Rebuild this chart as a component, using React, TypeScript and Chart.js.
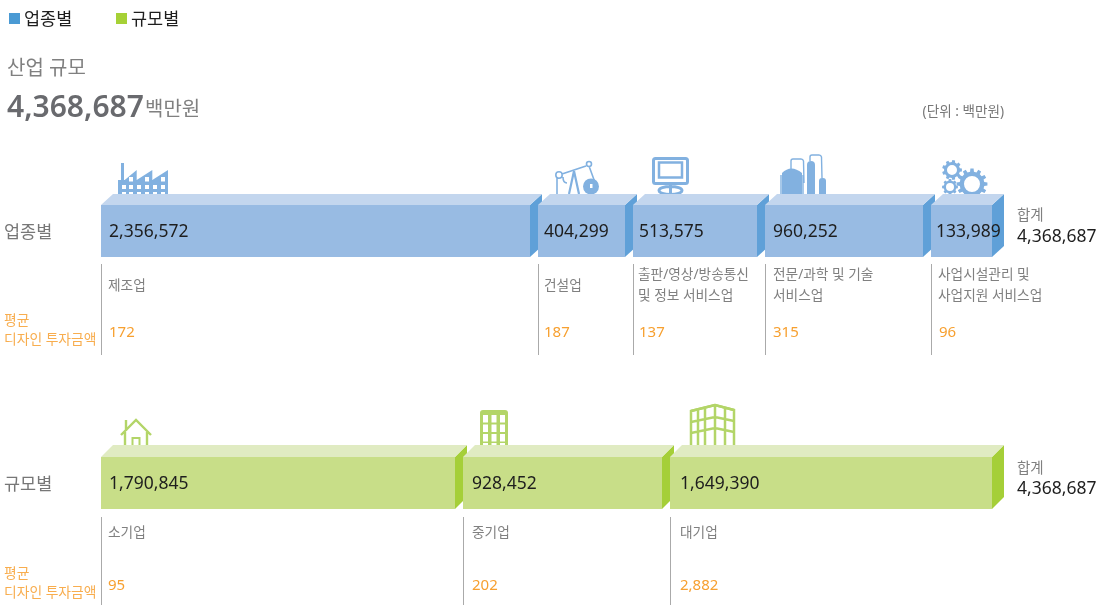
import React, { useEffect, useRef } from "react";
import { Chart, registerables } from "chart.js";

Chart.register(...registerables);

// ---------- data ----------
const rowLabels = ["업종별", "규모별"];
const legendLabels = ["업종별", "규모별"];
const headingLabel = "산업 규모";
const totalText = "4,368,687";
const unitText = "백만원";
const unitNote = "(단위 : 백만원)";
const sumLabel = "합계";
const avgLabelLines = ["평균", "디자인 투자금액"];

const industryNames = [["제조업"], ["건설업"], ["출판/영상/방송통신", "및 정보 서비스업"], ["전문/과학 및 기술", "서비스업"], ["사업시설관리 및", "사업지원 서비스업"]];
const industryAmounts = ["2,356,572", "404,299", "513,575", "960,252", "133,989"];
const industryAverages = ["172", "187", "137", "315", "96"];
// segment lengths as drawn in the picture (the picture's blocks are not proportional to the amounts)
const industryLengths = [437, 95, 132, 166, 61];

const sizeNames = [["소기업"], ["중기업"], ["대기업"]];
const sizeAmounts = ["1,790,845", "928,452", "1,649,390"];
const sizeAverages = ["95", "202", "2,882"];
const sizeLengths = [362, 207, 322];

// ---------- style ----------
const FONT = '"Noto Sans", "Noto Sans CJK KR", sans-serif';
const BLUE = { front: "#98bbe3", top: "#c3d6ee", side: "#5fa0d8", icon: "#82b1e0", legend: "#4a9ad4" };
const GREEN = { front: "#c8de88", top: "#e0ebc2", side: "#a5cf38", icon: "#b3d568", legend: "#a6d136" };
const GAP = 8;
const DEPTH_X = 12;
const DEPTH_Y = [11, 12];
const ORANGE = "#f7a030";
const ORANGE_LIGHT = "#f8ad4e";
const GREY = "#808080";
const DARK = "#1e1e1e";
const amountInset = [[8, 6, 6, 8, 5], [8, 9, 10]];
const nameInset = [[7, 6, 5, 8, 7], [7, 9, 10]];
const avgInset = [[8, 6, 6, 8, 8], [7, 9, 10]];

type Ctx = CanvasRenderingContext2D;

function text(ctx: Ctx, s: string, x: number, y: number, font: string, color: string, align: CanvasTextAlign = "left") {
  ctx.font = font + " " + FONT;
  ctx.fillStyle = color;
  ctx.textAlign = align;
  ctx.textBaseline = "middle";
  ctx.fillText(s, x, y);
}

function poly(ctx: Ctx, pts: number[][], color: string) {
  ctx.beginPath();
  pts.forEach((p, i) => (i ? ctx.lineTo(p[0], p[1]) : ctx.moveTo(p[0], p[1])));
  ctx.closePath();
  ctx.fillStyle = color;
  ctx.fill();
}

function gear(ctx: Ctx, cx: number, cy: number, r: number, hole: number, teeth: number) {
  ctx.beginPath();
  const tw = Math.PI / teeth;
  for (let i = 0; i < teeth; i++) {
    const a = (i * 2 * Math.PI) / teeth;
    const rIn = r * 0.8;
    const pts = [
      [a - tw * 0.6, rIn],
      [a - tw * 0.4, r],
      [a + tw * 0.4, r],
      [a + tw * 0.6, rIn],
    ];
    pts.forEach((p, j) => {
      const x = cx + Math.cos(p[0]) * p[1];
      const y = cy + Math.sin(p[0]) * p[1];
      if (i === 0 && j === 0) ctx.moveTo(x, y);
      else ctx.lineTo(x, y);
    });
  }
  ctx.closePath();
  ctx.moveTo(cx + hole, cy);
  ctx.arc(cx, cy, hole, 0, Math.PI * 2, true);
  ctx.fill("evenodd");
}

// icons: (x) is the left of the bar under it, (b) the back edge of the bar's top face
const icons: Record<string, (ctx: Ctx, x: number, b: number) => void> = {
  factory(ctx, x, b) {
    const l = x + 17;
    ctx.fillStyle = BLUE.icon;
    ctx.fillRect(l + 3, b - 31, 3, 20);
    ctx.fillRect(l, b - 14, 50, 14);
    [[6.7, 18.7], [18.7, 34.3], [34.3, 50]].forEach((t) => {
      poly(ctx, [[l + t[0], b - 14], [l + t[1], b - 24], [l + t[1], b - 13], [l + t[0], b - 13]], BLUE.icon);
    });
    ctx.fillStyle = "#ffffff";
    [4, 11, 19, 27, 35, 43].forEach((o, i) => {
      [b - 9, b - 2].forEach((y) => ctx.fillRect(l + o, y, 4, y === b - 2 ? 2 : 4));
      if (i % 2 === 1) ctx.fillRect(l + o, b - 17, 4, 4.5);
    });
  },
  pump(ctx, x, b) {
    ctx.strokeStyle = BLUE.icon;
    ctx.fillStyle = BLUE.icon;
    ctx.lineWidth = 1.6;
    const l = x + 18;
    ctx.beginPath();
    ctx.arc(l + 3, b - 19, 3.2, 0, Math.PI * 2);
    ctx.moveTo(l + 6, b - 20);
    ctx.lineTo(l + 30, b - 28);
    ctx.moveTo(l + 35.5, b - 30);
    ctx.arc(l + 33, b - 30, 2.5, 0, Math.PI * 2);
    ctx.moveTo(l + 1, b - 16);
    ctx.lineTo(l + 1, b);
    ctx.moveTo(l + 7, b - 17);
    ctx.quadraticCurveTo(l + 7, b - 11, l + 11, b - 11);
    ctx.moveTo(l + 33, b - 28);
    ctx.lineTo(l + 41, b - 6);
    ctx.stroke();
    ctx.lineWidth = 2.2;
    ctx.beginPath();
    ctx.moveTo(l + 18, b - 23);
    ctx.lineTo(l + 13, b);
    ctx.moveTo(l + 18, b - 23);
    ctx.lineTo(l + 23, b);
    ctx.stroke();
    ctx.beginPath();
    ctx.arc(l + 35, b - 7.5, 8, 0, Math.PI * 2);
    ctx.fill();
    ctx.fillStyle = "#ffffff";
    ctx.fillRect(l + 34, b - 10, 2.5, 4);
  },
  monitor(ctx, x, b) {
    const l = x + 19;
    ctx.strokeStyle = BLUE.icon;
    ctx.lineWidth = 3;
    ctx.beginPath();
    ctx.roundRect(l + 1.5, b - 35.5, 34, 25, 2);
    ctx.stroke();
    ctx.lineWidth = 2.5;
    ctx.strokeRect(l + 7, b - 31.5, 23, 15);
    ctx.lineWidth = 3;
    ctx.beginPath();
    ctx.ellipse(l + 18.5, b - 3.5, 11.5, 4, 0, 0, Math.PI * 2);
    ctx.moveTo(l + 18.5, b - 9);
    ctx.lineTo(l + 18.5, b);
    ctx.stroke();
  },
  plant(ctx, x, b) {
    const l = x + 16;
    ctx.fillStyle = BLUE.icon;
    ctx.strokeStyle = BLUE.icon;
    ctx.beginPath();
    ctx.moveTo(l + 1, b);
    ctx.lineTo(l + 1, b - 21);
    ctx.quadraticCurveTo(l + 10, b - 30, l + 21, b - 21);
    ctx.lineTo(l + 21, b);
    ctx.closePath();
    ctx.fill();
    ctx.fillRect(l + 26, b - 29, 8, 29);
    ctx.beginPath();
    ctx.arc(l + 30, b - 29, 4, Math.PI, 0);
    ctx.fill();
    ctx.beginPath();
    ctx.roundRect(l + 38, b - 16, 7, 16, [3, 3, 0, 0]);
    ctx.fill();
    ctx.lineWidth = 1.4;
    ctx.beginPath();
    ctx.moveTo(l + 10, b - 25);
    ctx.lineTo(l + 10, b - 33);
    ctx.quadraticCurveTo(l + 10, b - 35, l + 12, b - 35);
    ctx.lineTo(l + 20, b - 35);
    ctx.quadraticCurveTo(l + 22, b - 35, l + 22.5, b - 33);
    ctx.lineTo(l + 23, b - 11);
    ctx.moveTo(l + 29, b - 33);
    ctx.lineTo(l + 29, b - 37);
    ctx.quadraticCurveTo(l + 29, b - 39, l + 31, b - 39);
    ctx.lineTo(l + 38, b - 39);
    ctx.quadraticCurveTo(l + 40, b - 39, l + 40.5, b - 37);
    ctx.lineTo(l + 41, b - 16);
    ctx.moveTo(l, b);
    ctx.lineTo(l, b - 19);
    ctx.moveTo(l + 22, b);
    ctx.lineTo(l + 22, b - 19);
    ctx.stroke();
  },
  gears(ctx, x, b) {
    ctx.fillStyle = BLUE.icon;
    gear(ctx, x + 21, b - 24, 10, 5, 9);
    gear(ctx, x + 19, b - 7, 8, 4, 8);
    gear(ctx, x + 41, b - 10, 15.5, 8, 12);
  },
  house(ctx, x, b) {
    const l = x + 19;
    ctx.strokeStyle = GREEN.icon;
    ctx.lineWidth = 2.4;
    ctx.beginPath();
    ctx.moveTo(l + 1, b - 10);
    ctx.lineTo(l + 16, b - 25);
    ctx.lineTo(l + 31, b - 10);
    ctx.moveTo(l + 6, b - 14);
    ctx.lineTo(l + 6, b - 25);
    ctx.moveTo(l + 5, b - 13);
    ctx.lineTo(l + 5, b);
    ctx.moveTo(l + 27, b - 13);
    ctx.lineTo(l + 27, b);
    ctx.stroke();
    ctx.lineWidth = 2;
    ctx.strokeRect(l + 12.5, b - 7, 7, 8);
  },
  tower(ctx, x, b) {
    const l = x + 17;
    ctx.fillStyle = GREEN.icon;
    ctx.beginPath();
    ctx.roundRect(l, b - 35, 28, 36, [3, 3, 0, 0]);
    ctx.fill();
    ctx.fillStyle = "#ffffff";
    [3, 11.5, 20].forEach((o) => {
      [-30, -20.5, -11, -2].forEach((y) => ctx.fillRect(l + o, b + y, 5, y === -2 ? 3 : 7.5));
    });
  },
  office(ctx, x, b) {
    const l = x + 20;
    ctx.strokeStyle = GREEN.icon;
    ctx.lineWidth = 2.5;
    ctx.beginPath();
    ctx.moveTo(l + 1, b);
    ctx.lineTo(l + 1, b - 34);
    ctx.lineTo(l + 25, b - 40);
    ctx.lineTo(l + 44, b - 35);
    ctx.lineTo(l + 44, b);
    ctx.stroke();
    ctx.beginPath();
    [8, 15, 25, 35].forEach((o) => {
      const t = o <= 25 ? 34 + ((o - 1) / 24) * 6 : 40 - ((o - 25) / 19) * 5;
      ctx.moveTo(l + o, b - t);
      ctx.lineTo(l + o, b);
    });
    [0, 11, 22].forEach((d) => {
      ctx.moveTo(l + 1, b - 34 + d);
      ctx.lineTo(l + 25, b - 40 + d + (d ? 1 : 0));
      ctx.lineTo(l + 44, b - 35 + d);
    });
    ctx.stroke();
  },
};
const iconNames = [["factory", "pump", "monitor", "plant", "gears"], ["house", "tower", "office"]];

const rows = [
  { names: industryNames, amounts: industryAmounts, avgs: industryAverages, pal: BLUE, n: industryLengths.length },
  { names: sizeNames, amounts: sizeAmounts, avgs: sizeAverages, pal: GREEN, n: sizeLengths.length },
];

const makeDatasets = () => {
  const ds: any[] = [];
  [industryLengths, sizeLengths].forEach((lengths, r) => {
    lengths.forEach((v, i) => {
      const last = i === lengths.length - 1;
      ds.push({
        label: rows[r].amounts[i],
        data: r === 0 ? [v, null] : [null, v],
        row: r,
        seg: i,
        backgroundColor: rows[r].pal.front,
        borderColor: "rgba(0,0,0,0)",
        borderWidth: { top: 0, bottom: 0, left: 0, right: last ? 0 : GAP },
        borderSkipped: false,
        inflateAmount: 0,
        barThickness: 52,
        clip: false,
      });
    });
  });
  return ds;
};

const segments = (chart: any, r: number) =>
  chart.data.datasets
    .map((d: any, i: number) => ({ d, i }))
    .filter((o: any) => o.d.row === r)
    .map((o: any) => {
      const el = chart.getDatasetMeta(o.i).data[r];
      const gap = o.d.borderWidth.right;
      return { left: el.base, right: el.x - gap, top: el.y - el.height / 2, bottom: el.y + el.height / 2, y: el.y, seg: o.d.seg };
    });

const faces = {
  id: "faces",
  beforeDatasetsDraw(chart: any) {
    const ctx: Ctx = chart.ctx;
    rows.forEach((row, r) => {
      const segs = segments(chart, r);
      const dy = DEPTH_Y[r];
      ctx.save();
      segs.forEach((s: any) => {
        const back = s.top - dy;
        ctx.save();
        ctx.beginPath();
        ctx.rect(0, 0, chart.width, back);
        ctx.clip();
        icons[iconNames[r][s.seg]](ctx, s.left, back);
        ctx.restore();
      });
      segs.forEach((s: any) => {
        poly(ctx, [[s.right, s.top], [s.right + DEPTH_X, s.top - dy], [s.right + DEPTH_X, s.bottom - dy], [s.right, s.bottom]], row.pal.side);
      });
      segs.forEach((s: any) => {
        poly(ctx, [[s.left, s.top], [s.left + DEPTH_X, s.top - dy], [s.right + DEPTH_X, s.top - dy], [s.right, s.top]], row.pal.top);
      });
      ctx.restore();
    });
  },
  afterDatasetsDraw(chart: any) {
    const ctx: Ctx = chart.ctx;
    ctx.save();
    // legend
    [BLUE, GREEN].forEach((p, i) => {
      const x = i === 0 ? 9 : 116;
      ctx.fillStyle = p.legend;
      ctx.fillRect(x, 13, 11, 11);
      text(ctx, legendLabels[i], x + 15, 20, "17.5px", DARK);
    });
    // heading
    text(ctx, headingLabel, 7, 69, "20px", GREY);
    text(ctx, totalText, 7, 108, "600 30px", "#696a6e");
    text(ctx, unitText, 145, 110, "20px", GREY);
    text(ctx, unitNote, 1004, 112, "13.6px", "#777777", "right");

    rows.forEach((row, r) => {
      const segs = segments(chart, r);
      const nameY = r === 0 ? 286.5 : 533;
      const tickTop = segs[0].bottom + (r === 0 ? 7 : 8);
      const tickBottom = r === 0 ? 355 : 605;
      const avgY = r === 0 ? 333 : 586;
      segs.forEach((s: any) => {
        const i = s.seg;
        text(ctx, row.amounts[i], s.left + amountInset[r][i], s.y + 1.5, "17.5px", DARK);
        ctx.fillStyle = "#aaaaaa";
        ctx.fillRect(s.left, tickTop, 1, tickBottom - tickTop);
        const lines = row.names[i];
        lines.forEach((l: string, k: number) => {
          const y = lines.length === 1 ? nameY : nameY - 11 + k * 21;
          text(ctx, l, s.left + nameInset[r][i], y, "13.7px", GREY);
        });
        text(ctx, row.avgs[i], s.left + avgInset[r][i], avgY, "15px", ORANGE);
      });
      const sumX = segs[segs.length - 1].right + 25;
      text(ctx, sumLabel, sumX, segs[0].y - (r === 0 ? 15.5 : 14.5), "14.5px", GREY);
      text(ctx, totalText, sumX, segs[0].y + 6, "17.5px", DARK);
      text(ctx, avgLabelLines[0], 4, avgY - 11.5, "13.8px", ORANGE_LIGHT);
      text(ctx, avgLabelLines[1], 4, avgY + 7, "13.8px", ORANGE_LIGHT);
    });
    ctx.restore();
  },
};

export default function App() {
  const ref = useRef<HTMLCanvasElement>(null);
  useEffect(() => {
    document.body.style.margin = "0";
    const chart = new Chart(ref.current as HTMLCanvasElement, {
      type: "bar",
      data: { labels: rowLabels, datasets: makeDatasets() },
      plugins: [faces],
      options: {
        indexAxis: "y",
        animation: false,
        responsive: false,
        maintainAspectRatio: false,
        layout: { padding: { left: 4, right: 115, top: 231, bottom: 122 } },
        plugins: { legend: { display: false }, tooltip: { enabled: false } },
        scales: {
          x: { stacked: true, display: false, min: 0, max: 891 },
          y: {
            stacked: true,
            offset: false,
            grid: { display: false },
            border: { display: false },
            afterFit(scale: any) {
              scale.width = 97;
            },
            ticks: {
              autoSkip: false,
              crossAlign: "far",
              padding: 0,
              labelOffset: 2,
              color: "#777777",
              font: { family: FONT, size: 17.5 },
            },
          },
        },
      },
    } as any);
    return () => chart.destroy();
  }, []);
  return <canvas ref={ref} width={1107} height={605} style={{ display: "block", width: 1107, height: 605 }} />;
}
